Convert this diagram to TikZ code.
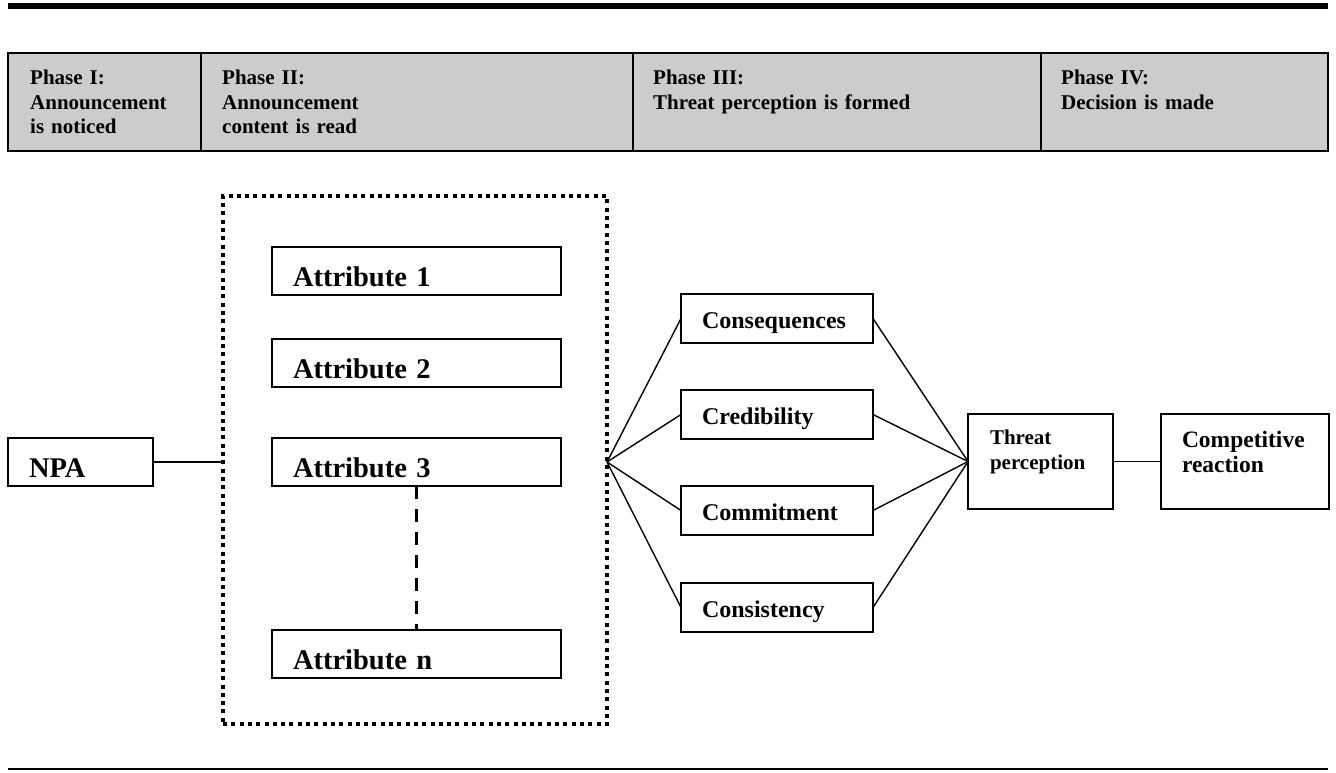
\documentclass[tikz,border=0pt]{standalone}
\usepackage{fontspec}
\setmainfont{Liberation Serif}
\usetikzlibrary{positioning}

\definecolor{headgray}{RGB}{204,204,204}

\tikzset{
  box/.style={draw, line width=1.6pt, align=left, inner ysep=0pt, outer sep=0pt},
  attribute/.style={box, text width=247pt, inner xsep=21pt, text height=39pt, text depth=9pt,
    font=\bfseries\fontsize{28.5}{34}\selectfont},
  factor/.style={box, text width=150pt, inner xsep=21pt, text height=34pt, text depth=15pt,
    font=\bfseries\fontsize{24}{29}\selectfont},
  phase/.style={anchor=base west, inner sep=0pt, text width=300pt, align=left,
    font=\bfseries\fontsize{21}{24.5}\selectfont},
  group/.style={draw, line width=4pt, dash pattern=on 4pt off 4.3pt, minimum width=384pt,
    minimum height=528pt, inner sep=0pt, outer sep=0pt},
  link/.style={line width=1.4pt},
}

\begin{document}
\begin{tikzpicture}[x=1pt, y=-1pt]
    \useasboundingbox (0,0) rectangle (1336,773);

    \draw[line width=6pt] (8,6) -- (1328,6);
    \draw[line width=2pt, fill=headgray] (8,53) rectangle (1328,151);
    \foreach \x in {201,633,1041}
        \draw[line width=2pt] (\x,53) -- (\x,151);

    \node[phase] (ph1) at (30,85) {Phase I:\\Announcement\\is noticed};
    \node[phase] (ph2) at (222,85) {Phase II:\\Announcement\\content is read};
    \node[phase] (ph3) at (653,85) {Phase III:\\Threat perception is formed};
    \node[phase] (ph4) at (1061,85) {Phase IV:\\Decision is made};

    \node[attribute, text width=103pt, anchor=north west] (npa) at (8,438) {NPA};
    \node[group, anchor=north west] (attrs) at (223,196) {};
    \node[attribute, anchor=north west] (a1) at (272,247) {Attribute 1};
    \node[attribute, anchor=north west] (a2) at (272,339) {Attribute 2};
    \node[attribute, anchor=north west] (a3) at (272,438) {Attribute 3};
    \node[attribute, anchor=north west] (an) at (272,630) {Attribute n};

    \node[factor, anchor=north west] (cons) at (681,294) {Consequences};
    \node[factor, below=47pt of cons] (cred) {Credibility};
    \node[factor, below=47pt of cred] (comm) {Commitment};
    \node[factor, below=48pt of comm] (cnst) {Consistency};

    \node[box, anchor=north west, text width=101pt, inner xsep=22pt, text height=30pt, text depth=65pt,
          font=\bfseries\fontsize{21}{25}\selectfont] (threat) at (968,414) {Threat\\perception};
    \node[box, anchor=north west, text width=126pt, inner xsep=21pt, text height=33pt, text depth=62pt,
          font=\bfseries\fontsize{23.5}{25}\selectfont] (react) at (1161,414) {Competitive\\reaction};

    \coordinate (hub) at (npa.east -| attrs.east);

    \draw[link] (npa.east) -- (npa.east -| attrs.west);
    \draw[line width=3pt, dash pattern=on 13pt off 10pt] (a3.south) -- (an.north);
    \foreach \f in {cons, cred, comm, cnst} {
        \draw[link] (hub) -- (\f.west);
        \draw[link] (\f.east) -- (threat.west);
    }
    \draw[link] (threat.east) -- (react.west);

    \draw[line width=1.5pt] (8,769) -- (1328,769);
\end{tikzpicture}
\end{document}
